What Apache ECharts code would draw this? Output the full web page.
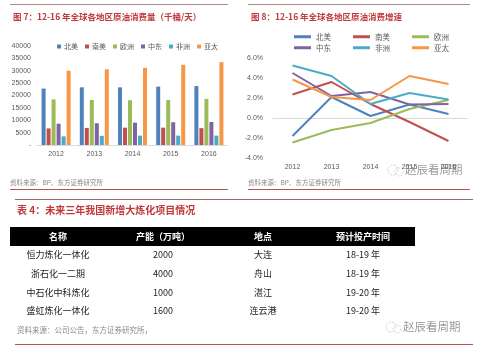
<!DOCTYPE html>
<html><head><meta charset="utf-8">
<script src="https://cdn.jsdelivr.net/npm/echarts@6/dist/echarts.min.js"></script>
<style>html,body{margin:0;padding:0;background:#fff}#c{width:481px;height:356px}</style>
</head><body><div id="c"></div>
<script>
// ---- data ----
const years = ['2012','2013','2014','2015','2016'];
const regions = ['北美','南美','欧洲','中东','非洲','亚太'];
// consumption (thousand barrels/day)
const consNA = [22800, 23300, 23300, 23600, 23800];
const consSA = [6700, 6900, 7000, 7000, 6800];
const consEU = [18400, 18200, 18100, 18200, 18600];
const consME = [8600, 8800, 9000, 9200, 9300];
const consAF = [3500, 3700, 3800, 3800, 3800];
const consAP = [30000, 30600, 31200, 32400, 33500];
// growth (%)
const growNA = [-1.8, 2.1, 0.2, 1.35, 0.4];
const growSA = [2.35, 3.6, 1.4, -0.4, -2.3];
const growEU = [-2.45, -1.2, -0.5, 0.9, 1.8];
const growME = [4.5, 2.2, 2.6, 1.35, 1.4];
const growAF = [5.25, 4.2, 1.4, 2.5, 1.85];
const growAP = [3.85, 2.1, 1.8, 4.2, 3.4];
// table
const tableHeaders = ['名称','产能（万吨）','地点','预计投产时间'];
const projectNames = ['恒力炼化一体化','浙石化一二期','中石化中科炼化','盛虹炼化一体化'];
const capacities = ['2000','4000','1000','1600'];
const locations = ['大连','舟山','湛江','连云港'];
const periods = ['18-19 年','18-19 年','19-20 年','19-20 年'];
// texts
const title7 = '图 7：12-16 年全球各地区原油消费量（千桶/天）';
const title8 = '图 8：12-16 年全球各地区原油消费增速';
const titleT = '表 4：未来三年我国新增大炼化项目情况';
const source1 = '资料来源：BP、东方证券研究所';
const sourceT = '资料来源：公司公告，东方证券研究所，';
const watermark = '赵辰看周期';

const colors = ['#4F81BD','#C0504D','#9BBB59','#8064A2','#4BACC6','#F79646'];
const FONT = '"Noto Sans CJK SC", "Liberation Serif", serif';
const consData = [consNA, consSA, consEU, consME, consAF, consAP];
const growData = [growNA, growSA, growEU, growME, growAF, growAP];

const chart = echarts.init(document.getElementById('c'), null, {renderer:'canvas'});

const series = [];
regions.forEach((r,i)=>{
  series.push({name:r, type:'bar', xAxisIndex:0, yAxisIndex:0, data:consData[i],
    barWidth:4, barGap:'25%', itemStyle:{color:colors[i]}});
});
regions.forEach((r,i)=>{
  series.push({name:r+' ', type:'line', xAxisIndex:1, yAxisIndex:1, data:growData[i],
    showSymbol:false, symbol:'none', lineStyle:{width:2, color:colors[i]}, itemStyle:{color:colors[i]}});
});

// graphic elements
const g = [];
const hline = (x1,x2,y,color,w)=>g.push({type:'line', shape:{x1,y1:y,x2,y2:y}, style:{stroke:color, lineWidth:w||1}, silent:true});
hline(10,228,4.5,'#b08a8a',1);
hline(248,470,4.5,'#b08a8a',1);
hline(10,228,189.5,'#b05555',1);
hline(248,470,189.5,'#b05555',1);
hline(15,473,199.5,'#9a6a6a',1);
hline(15,473,344.5,'#c05050',1.2);
const txt = (text,x,y,opt)=>g.push({type:'text', x, y, silent:true, style:Object.assign({text, fontFamily:FONT, textVerticalAlign:'middle', verticalAlign:'middle'}, opt)});
txt(source1, 10, 183, {fontSize:6.5, fill:'#8a8a8a'});
txt(source1, 248, 183, {fontSize:6.5, fill:'#8a8a8a'});
txt(titleT, 17, 210, {fontSize:10, fill:'#c0393b', fontWeight:'bold'});
txt(sourceT, 17, 330, {fontSize:7.5, fill:'#8a8a8a'});
// table header
g.push({type:'rect', shape:{x:10,y:227,width:405,height:19}, style:{fill:'#000'}, silent:true});
const colX = [58,163,263,363];
tableHeaders.forEach((h,i)=>txt(h, colX[i], 236.5, {fontSize:9, fill:'#fff', fontWeight:'bold', align:'center', textAlign:'center'}));
const rowY = [255,274,293,311];
const cols = [projectNames, capacities, locations, periods];
rowY.forEach((y,r)=>{
  cols.forEach((c,i)=>txt(c[r], colX[i], y, {fontSize:9, fill:'#222', align:'center', textAlign:'center'}));
});
// watermarks
const wm = (x,y)=>{
  g.push({type:'circle', shape:{cx:x-14,cy:y,r:5}, style:{fill:'none', stroke:'#bbb', lineWidth:0.8, lineDash:[1.5,1.5]}, silent:true});
  g.push({type:'circle', shape:{cx:x-8,cy:y+2,r:4}, style:{fill:'none', stroke:'#bbb', lineWidth:0.8, lineDash:[1.5,1.5]}, silent:true});
  txt(watermark, x-2, y, {fontSize:11.5, fill:'#9a9a9a'});
};
wm(407,170);
wm(405,327);

const axisLabel = {fontSize:7, color:'#595959', fontFamily:'"Liberation Sans", sans-serif'};

chart.setOption({
  animation:false,
  backgroundColor:'#fff',
  color:colors,
  textStyle:{fontFamily:FONT},
  title:[
    {text:title7, left:8, top:8, textStyle:{fontSize:8.5, fontWeight:'bold', color:'#c0393b', fontFamily:FONT}},
    {text:title8, left:246, top:8, textStyle:{fontSize:8.5, fontWeight:'bold', color:'#c0393b', fontFamily:FONT}}
  ],
  legend:[
    {data:regions, left:52, top:38, itemWidth:4, itemHeight:4, itemGap:7, icon:'rect',
      textStyle:{fontSize:7, color:'#595959', padding:[0,0,0,-2]}},
    {data:regions.slice(0,3).map(r=>r+' '), left:289, top:28, itemWidth:17, itemHeight:3, itemGap:22, icon:'rect',
      formatter:n=>n.trim(), textStyle:{fontSize:7.5, color:'#595959'}},
    {data:regions.slice(3).map(r=>r+' '), left:289, top:39, itemWidth:17, itemHeight:3, itemGap:22, icon:'rect',
      formatter:n=>n.trim(), textStyle:{fontSize:7.5, color:'#595959'}}
  ],
  grid:[
    {left:37, top:46, width:191, height:99, containLabel:false},
    {left:273, top:58, width:195, height:100, containLabel:false}
  ],
  xAxis:[
    {type:'category', gridIndex:0, data:years, axisLine:{lineStyle:{color:'#d9d9d9'}}, axisTick:{show:false},
      axisLabel:Object.assign({margin:6}, axisLabel)},
    {type:'category', gridIndex:1, data:years, axisLine:{onZero:true, lineStyle:{color:'#d9d9d9'}}, axisTick:{show:false},
      axisLabel:Object.assign({margin:6}, axisLabel)}
  ],
  yAxis:[
    {type:'value', gridIndex:0, min:0, max:40000, interval:5000, splitLine:{show:false}, axisLine:{show:false},
      axisLabel:Object.assign({margin:6, formatter:v=>v===0?'-':String(v)}, axisLabel)},
    {type:'value', gridIndex:1, min:-4, max:6, interval:2, splitLine:{show:false}, axisLine:{show:false},
      axisLabel:Object.assign({margin:10, formatter:v=>v.toFixed(1)+'%'}, axisLabel)}
  ],
  series,
  graphic:g
});
</script></body></html>
